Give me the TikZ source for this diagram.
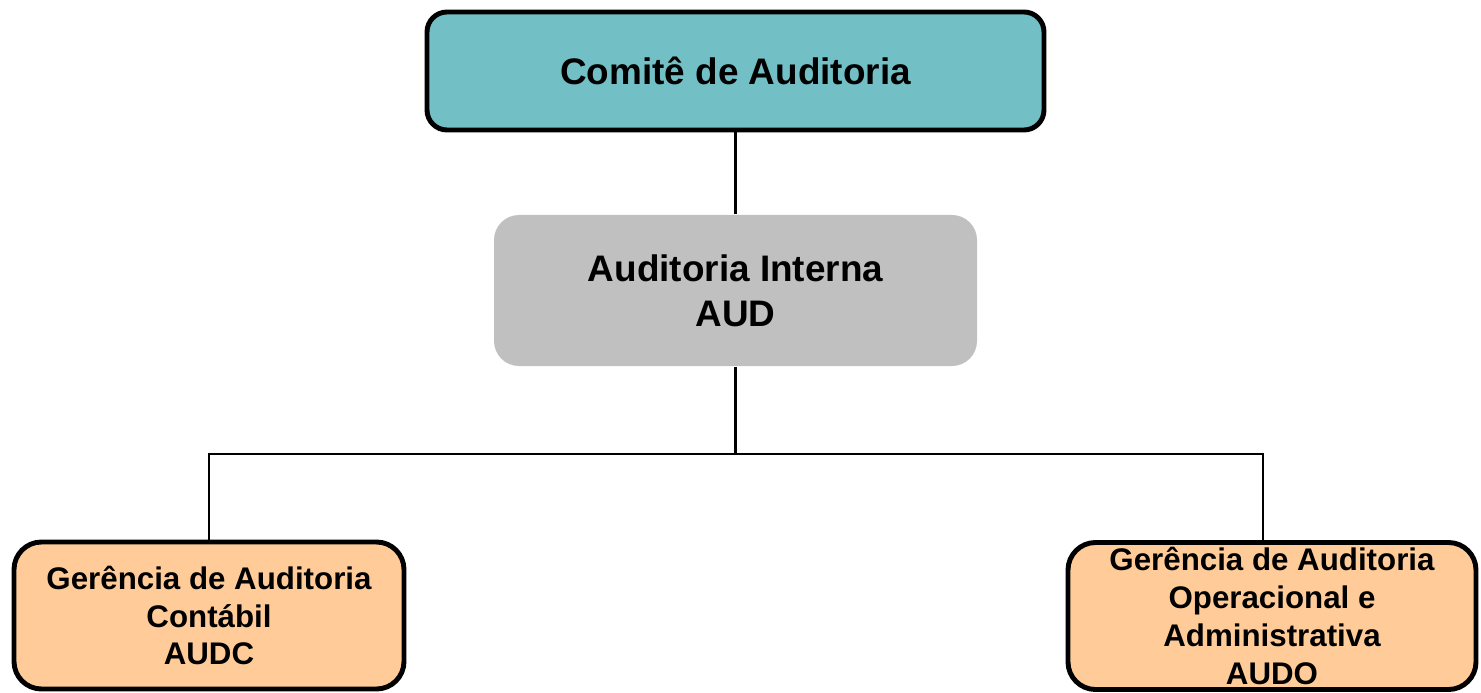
\documentclass[tikz,border=0pt]{standalone}
\usepackage{fontspec}
\setmainfont{Liberation Sans}
\usetikzlibrary{positioning}
\definecolor{comite}{RGB}{114,191,198}
\definecolor{interna}{RGB}{192,192,192}
\definecolor{gerencia}{RGB}{255,204,153}

\begin{document}
\begin{tikzpicture}[line width=1.4pt,
  box/.style={align=center,inner sep=0pt,font=\bfseries},
  top/.style={box,draw,line width=2.8pt,fill=comite,rounded corners=0.4cm,
    minimum width=12.34cm,minimum height=2.36cm,font=\bfseries\fontsize{21}{25}\selectfont},
  mid/.style={box,fill=interna,rounded corners=0.5cm,
    minimum width=9.66cm,minimum height=3.02cm,font=\bfseries\fontsize{21}{25.5}\selectfont},
  low/.style={box,draw,line width=2.8pt,fill=gerencia,rounded corners=0.55cm,
    minimum height=2.94cm,font=\bfseries\fontsize{17.8}{21.5}\selectfont}]
  \useasboundingbox (0,0) rectangle (29.62,-13.86);
  \node[top] (A) at (14.71,-1.42) {Comitê de Auditoria};
  \node[mid] (B) at (14.71,-5.81) {Auditoria Interna\\AUD};
  \node[low,minimum width=7.80cm] (C) at (4.18,-12.31) {Gerência de Auditoria\\Contábil\\AUDC};
  \node[low,minimum width=8.16cm] (D) at (25.44,-12.32) {Gerência de Auditoria\\Operacional e\\Administrativa\\AUDO};
  \draw (A) -- (B);
  \draw (B.south) -- ++(0,-1.74) -| (C.north);
  \draw (B.south) ++(0,-1.74) -| ([xshift=-0.18cm]D.north);
\end{tikzpicture}
\end{document}
